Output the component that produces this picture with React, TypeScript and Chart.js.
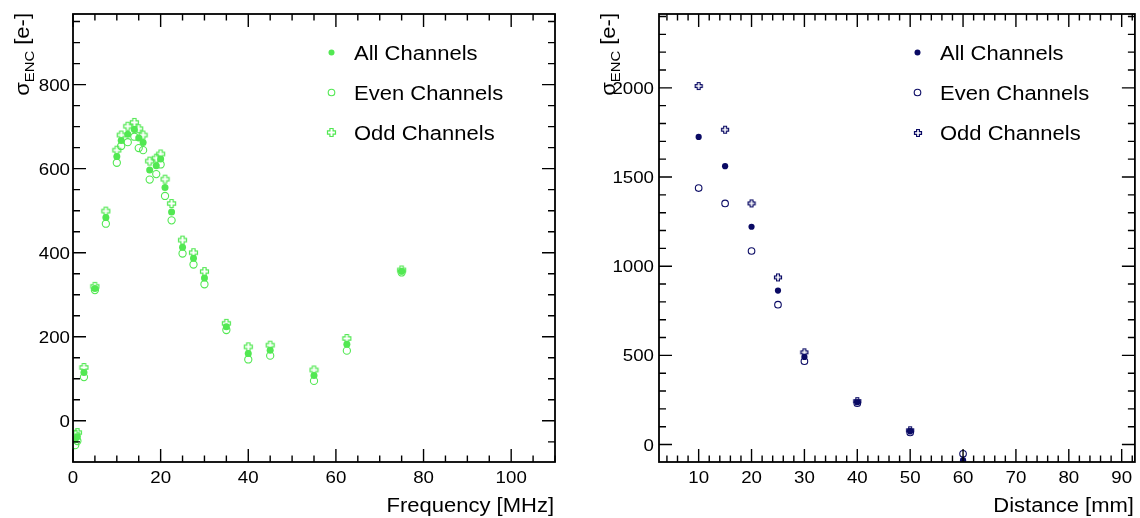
import React, { useEffect, useRef } from 'react';
import { Chart, registerables } from 'chart.js';

Chart.register(...registerables);

const FONT = "'Liberation Sans', Arial, Helvetica, sans-serif";
const STRETCH = 1.1;

// ---------- Left panel: noise vs frequency ----------
const freqMHz = [0.5, 1, 2.5, 5, 7.5, 10, 11, 12.5, 14, 15, 16, 17.5, 19, 20, 21, 22.5, 25, 27.5, 30, 35, 40, 45, 55, 62.5, 75];
const freqAll = [-45, -38, 115, 315, 484, 629, 667, 682, 693, 673, 662, 597, 607, 623, 555, 497, 413, 387, 340, 224, 160, 168, 108, 182, 356];
const freqEven = [-58, -48, 104, 311, 469, 614, 654, 663, 676, 649, 644, 574, 587, 610, 535, 477, 398, 372, 325, 216, 146, 155, 95, 167, 353];
const freqOdd = [-32, -28, 127, 320, 499, 644, 680, 701, 710, 695, 680, 618, 625, 635, 575, 517, 430, 400, 355, 232, 176, 180, 121, 196, 359];
const freqTickLabelsX = [0, 20, 40, 60, 80, 100];
const freqTickLabelsY = [0, 200, 400, 600, 800];

// ---------- Right panel: noise vs distance ----------
const distMM = [10, 15, 20, 25, 30, 40, 50, 60];
const distAll = [1725, 1561, 1221, 863, 491, 237, 75, -88];
const distEven = [1438, 1352, 1085, 784, 467, 232, 68, -52];
const distOdd = [2010, 1765, 1352, 937, 517, 243, 80, -115];
const distTickLabelsX = [10, 20, 30, 40, 50, 60, 70, 80, 90];
const distTickLabelsY = [0, 500, 1000, 1500, 2000];

const legendLabels = ['All Channels', 'Even Channels', 'Odd Channels'];

const GREEN = 'rgb(82, 232, 82)';
const NAVY = 'rgb(10, 10, 100)';

function makeCross(color: string, arm: number, half: number, size: number) {
  const c = document.createElement('canvas');
  c.width = size;
  c.height = size;
  const g = c.getContext('2d')!;
  const m = size / 2;
  g.beginPath();
  g.moveTo(m - half, m - arm);
  g.lineTo(m + half, m - arm);
  g.lineTo(m + half, m - half);
  g.lineTo(m + arm, m - half);
  g.lineTo(m + arm, m + half);
  g.lineTo(m + half, m + half);
  g.lineTo(m + half, m + arm);
  g.lineTo(m - half, m + arm);
  g.lineTo(m - half, m + half);
  g.lineTo(m - arm, m + half);
  g.lineTo(m - arm, m - half);
  g.lineTo(m - half, m - half);
  g.closePath();
  g.strokeStyle = color;
  g.lineWidth = 1.2;
  g.stroke();
  return c;
}

type PanelCfg = {
  xMin: number; xMax: number; yMin: number; yMax: number;
  xMinor: number; xMajor: number; yMinor: number; yMajor: number;
  xLabels: number[]; yLabels: number[];
  xTitle: string; yGap: number;
  color: string; cross: HTMLCanvasElement;
  yWidth: number; padRight: number;
  xs: number[]; all: number[]; even: number[]; odd: number[];
  rFilled: number; rOpen: number;
};

function stretchedText(ctx: CanvasRenderingContext2D, text: string, x: number, y: number, align: CanvasTextAlign, size: number) {
  ctx.save();
  ctx.translate(x, y);
  ctx.scale(STRETCH, 1);
  ctx.font = `${size}px ${FONT}`;
  ctx.textAlign = align;
  ctx.textBaseline = 'alphabetic';
  ctx.fillStyle = '#000';
  ctx.fillText(text, 0, 0);
  ctx.restore();
}

function makePlugin(cfg: PanelCfg) {
  return {
    id: 'rootFrame',
    afterDraw(chart: any) {
      const ctx: CanvasRenderingContext2D = chart.ctx;
      const a = chart.chartArea;
      const xs = chart.scales.x;
      const ys = chart.scales.y;
      ctx.save();
      // frame
      ctx.strokeStyle = '#000';
      ctx.lineWidth = 1.8;
      ctx.strokeRect(a.left, a.top, a.right - a.left, a.bottom - a.top);
      // ticks
      ctx.lineWidth = 1.4;
      ctx.beginPath();
      const kx0 = Math.ceil(cfg.xMin / cfg.xMinor - 1e-9);
      const kx1 = Math.floor(cfg.xMax / cfg.xMinor + 1e-9);
      for (let k = kx0; k <= kx1; k++) {
        const v = k * cfg.xMinor;
        const px = xs.getPixelForValue(v);
        const major = Math.abs(v / cfg.xMajor - Math.round(v / cfg.xMajor)) < 1e-6;
        const len = major ? 13 : 6.5;
        ctx.moveTo(px, a.bottom);
        ctx.lineTo(px, a.bottom - len);
        ctx.moveTo(px, a.top);
        ctx.lineTo(px, a.top + len);
      }
      const ky0 = Math.ceil(cfg.yMin / cfg.yMinor - 1e-9);
      const ky1 = Math.floor(cfg.yMax / cfg.yMinor + 1e-9);
      for (let k = ky0; k <= ky1; k++) {
        const v = k * cfg.yMinor;
        const py = ys.getPixelForValue(v);
        const major = Math.abs(v / cfg.yMajor - Math.round(v / cfg.yMajor)) < 1e-6;
        const len = major ? 13 : 7;
        ctx.moveTo(a.left, py);
        ctx.lineTo(a.left + len, py);
        ctx.moveTo(a.right, py);
        ctx.lineTo(a.right - len, py);
      }
      ctx.stroke();
      // tick labels
      cfg.xLabels.forEach((v) => {
        stretchedText(ctx, String(v), xs.getPixelForValue(v), a.bottom + 21, 'center', 17);
      });
      cfg.yLabels.forEach((v) => {
        stretchedText(ctx, String(v), a.left - cfg.yGap, ys.getPixelForValue(v) + 6, 'right', 17);
      });
      // x title
      stretchedText(ctx, cfg.xTitle, a.right - 1, 512, 'right', 20);
      // y title with subscript
      ctx.font = `20px ${FONT}`;
      const mSigma = ctx.measureText('σ').width;
      const mRest = ctx.measureText(' [e-]').width;
      ctx.font = `13.5px ${FONT}`;
      const mSub = ctx.measureText('ENC').width;
      const total = (mSigma + mSub + mRest) * STRETCH;
      ctx.save();
      ctx.translate(a.left - 44.5, 13 + total);
      ctx.rotate(-Math.PI / 2);
      ctx.scale(STRETCH, 1);
      ctx.fillStyle = '#000';
      ctx.textAlign = 'left';
      ctx.textBaseline = 'alphabetic';
      ctx.font = `20px ${FONT}`;
      ctx.fillText('σ', 0, 0);
      ctx.font = `13.5px ${FONT}`;
      ctx.fillText('ENC', mSigma, 5);
      ctx.font = `20px ${FONT}`;
      ctx.fillText(' [e-]', mSigma + mSub, 0);
      ctx.restore();
      // legend
      legendLabels.forEach((label, i) => {
        const yc = 52.5 + 40 * i;
        const mx = a.left + 258.5;
        ctx.beginPath();
        if (i === 0) {
          ctx.fillStyle = cfg.color;
          ctx.arc(mx, yc, 3, 0, Math.PI * 2);
          ctx.fill();
        } else if (i === 1) {
          ctx.strokeStyle = cfg.color;
          ctx.lineWidth = 1.1;
          ctx.arc(mx, yc, 3.3, 0, Math.PI * 2);
          ctx.stroke();
        } else {
          ctx.drawImage(cfg.cross, Math.round(mx - cfg.cross.width / 2), Math.round(yc - cfg.cross.height / 2));
        }
        stretchedText(ctx, label, a.left + 281, yc + 7, 'left', 20);
      });
      ctx.restore();
    },
  };
}

function makeConfig(cfg: PanelCfg): any {
  const pts = (ys: number[]) => cfg.xs.map((x, i) => ({ x, y: ys[i] }));
  return {
    type: 'scatter',
    data: {
      datasets: [
        {
          label: legendLabels[0], data: pts(cfg.all), pointStyle: 'circle', pointRadius: cfg.rFilled,
          backgroundColor: cfg.color, borderColor: cfg.color, borderWidth: 0, clip: 0,
        },
        {
          label: legendLabels[1], data: pts(cfg.even), pointStyle: 'circle', pointRadius: cfg.rOpen,
          backgroundColor: 'rgba(0,0,0,0)', borderColor: cfg.color, borderWidth: 1.1, clip: 0,
        },
        {
          label: legendLabels[2], data: pts(cfg.odd), pointStyle: cfg.cross, pointRadius: 4,
          backgroundColor: cfg.color, borderColor: cfg.color, clip: 0,
        },
      ],
    },
    options: {
      animation: false,
      responsive: false,
      devicePixelRatio: 1,
      events: [],
      layout: { padding: { left: 0, right: cfg.padRight, top: 14, bottom: 0 } },
      plugins: { legend: { display: false }, tooltip: { enabled: false } },
      scales: {
        x: {
          type: 'linear', min: cfg.xMin, max: cfg.xMax,
          grid: { display: false, drawTicks: false }, border: { display: false },
          ticks: { display: false },
          afterFit: (s: any) => { s.height = 56; },
        },
        y: {
          type: 'linear', min: cfg.yMin, max: cfg.yMax,
          grid: { display: false, drawTicks: false }, border: { display: false },
          ticks: { display: false },
          afterFit: (s: any) => { s.width = cfg.yWidth; },
        },
      },
    },
    plugins: [makePlugin(cfg)],
  };
}

export default function App() {
  const leftRef = useRef<HTMLCanvasElement>(null);
  const rightRef = useRef<HTMLCanvasElement>(null);

  useEffect(() => {
    const leftCfg: PanelCfg = {
      xMin: 0, xMax: 110, yMin: -98, yMax: 968,
      xMinor: 5, xMajor: 20, yMinor: 50, yMajor: 200,
      xLabels: freqTickLabelsX, yLabels: freqTickLabelsY,
      xTitle: 'Frequency [MHz]', yGap: 3,
      color: GREEN, cross: makeCross(GREEN, 4, 1.6, 11),
      yWidth: 73, padRight: 15,
      xs: freqMHz, all: freqAll, even: freqEven, odd: freqOdd,
      rFilled: 3.5, rOpen: 3.6,
    };
    const rightCfg: PanelCfg = {
      xMin: 2.5, xMax: 92.5, yMin: -98, yMax: 2414,
      xMinor: 2, xMajor: 10, yMinor: 100, yMajor: 500,
      xLabels: distTickLabelsX, yLabels: distTickLabelsY,
      xTitle: 'Distance [mm]', yGap: 5,
      color: NAVY, cross: makeCross(NAVY, 3.5, 1.4, 10),
      yWidth: 89, padRight: 1,
      xs: distMM, all: distAll, even: distEven, odd: distOdd,
      rFilled: 3.1, rOpen: 3.3,
    };
    const c1 = new Chart(leftRef.current!, makeConfig(leftCfg));
    const c2 = new Chart(rightRef.current!, makeConfig(rightCfg));
    return () => {
      c1.destroy();
      c2.destroy();
    };
  }, []);

  return (
    <div style={{ position: 'absolute', left: 0, top: 0, width: 1140, height: 518, background: '#fff' }}>
      <canvas ref={leftRef} width={570} height={518} style={{ position: 'absolute', left: 0, top: 0, width: 570, height: 518 }} />
      <canvas ref={rightRef} width={570} height={518} style={{ position: 'absolute', left: 570, top: 0, width: 570, height: 518 }} />
    </div>
  );
}
